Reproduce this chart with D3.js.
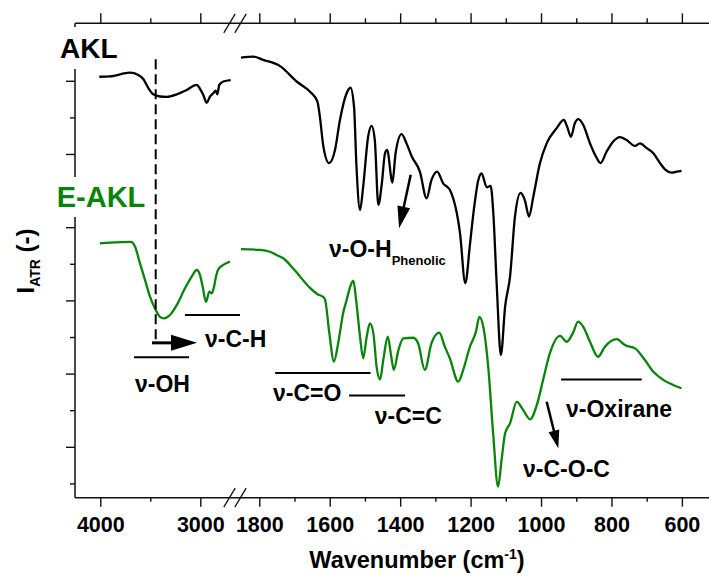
<!DOCTYPE html>
<html><head><meta charset="utf-8">
<script src="https://cdn.jsdelivr.net/npm/d3@7"></script>
<style>
body{margin:0;background:#fff}
svg{display:block;font-family:"Liberation Sans",Arial,sans-serif;font-weight:bold}
</style>
</head><body><svg id="c" width="709" height="577"></svg>
<script>
// ---------------- DATA ----------------
// Wavenumber (cm-1) and ATR intensity (arbitrary units, 1 unit = one y tick)
const aklLeftWn = [4010, 3903, 3703, 3620, 3570, 3520, 3470, 3403, 3336, 3236, 3136, 3036, 3003, 2970, 2936, 2903, 2870, 2846, 2830, 2810, 2770, 2696];
const aklLeftI  = [11.11, 11.12, 11.22, 11.16, 11.05, 10.80, 10.63, 10.57, 10.56, 10.63, 10.75, 10.89, 10.78, 10.61, 10.40, 10.57, 10.66, 10.73, 10.63, 10.89, 10.98, 11.02];

const aklRightWn = [1852, 1817, 1789, 1741, 1694, 1656, 1635, 1628, 1618, 1602, 1585, 1571, 1552, 1541, 1531, 1524, 1514, 1505, 1491, 1481, 1472, 1462, 1452, 1443, 1437, 1422, 1413, 1396, 1382, 1367, 1344, 1325, 1311, 1295, 1278, 1259, 1230, 1215, 1202, 1192, 1178, 1169, 1154, 1143, 1136, 1126, 1114, 1102, 1088, 1074, 1058, 1046, 1034, 1022, 1003, 984, 956, 935, 926, 915, 904, 894, 880, 861, 844, 831, 814, 795, 776, 757, 733, 719, 700, 681, 662, 648, 629, 615, 601];
const aklRightI  = [11.63, 11.66, 11.57, 11.40, 10.98, 10.70, 10.43, 10.02, 9.20, 8.75, 9.11, 9.93, 10.66, 10.81, 10.29, 8.65, 7.47, 8.11, 9.47, 9.77, 9.38, 7.61, 8.20, 9.02, 9.11, 8.22, 9.02, 9.54, 9.29, 8.93, 8.52, 7.79, 8.29, 8.52, 8.20, 8.02, 6.83, 5.47, 6.51, 7.38, 8.29, 8.47, 8.09, 8.13, 7.47, 5.47, 3.51, 4.83, 5.65, 7.29, 7.94, 7.74, 7.29, 7.83, 8.75, 9.29, 9.70, 9.93, 9.75, 9.47, 9.84, 9.95, 9.79, 9.29, 8.93, 8.75, 9.06, 9.34, 9.46, 9.38, 9.22, 9.29, 9.16, 9.02, 8.75, 8.58, 8.49, 8.52, 8.54];

const eaklLeftWn = [4003, 3903, 3693, 3653, 3603, 3553, 3503, 3453, 3403, 3363, 3303, 3236, 3153, 3086, 3036, 3003, 2976, 2943, 2910, 2886, 2863, 2843, 2820, 2770, 2703];
const eaklLeftI  = [6.56, 6.58, 6.60, 6.47, 6.01, 5.56, 5.10, 4.78, 4.55, 4.51, 4.60, 4.87, 5.33, 5.65, 5.83, 5.69, 5.37, 4.96, 5.24, 5.19, 5.37, 5.65, 5.85, 5.97, 6.06];

const eaklRightWn = [1852, 1798, 1770, 1751, 1732, 1700, 1656, 1635, 1618, 1613, 1601, 1588, 1576, 1562, 1552, 1542, 1533, 1525, 1514, 1505, 1495, 1486, 1476, 1467, 1457, 1448, 1435, 1426, 1418, 1405, 1391, 1363, 1349, 1330, 1311, 1289, 1273, 1259, 1235, 1221, 1202, 1185, 1175, 1164, 1150, 1136, 1122, 1112, 1102, 1088, 1069, 1051, 1031, 1012, 994, 975, 946, 927, 908, 895, 880, 861, 838, 819, 785, 762, 733, 705, 681, 653, 625, 601];
const eaklRightI  = [6.40, 6.38, 6.33, 6.24, 6.15, 5.83, 5.34, 5.17, 5.09, 5.01, 4.10, 3.33, 3.83, 4.65, 5.01, 5.37, 5.54, 5.01, 4.01, 3.42, 4.01, 4.37, 4.10, 3.19, 2.84, 3.37, 4.01, 3.51, 3.10, 3.64, 3.96, 3.98, 3.83, 3.10, 3.83, 4.12, 3.73, 3.42, 2.78, 3.10, 3.73, 4.14, 4.55, 4.28, 3.19, 1.37, -0.09, 0.64, 1.37, 1.64, 2.23, 2.01, 1.75, 2.14, 2.83, 3.55, 4.03, 3.87, 4.14, 4.42, 4.28, 3.87, 3.46, 3.73, 3.94, 3.78, 3.69, 3.37, 3.05, 2.83, 2.69, 2.60];

const tickLeftMajor  = [4000, 3000];
const tickLeftMinor  = [3500];
const tickRightMajor = [1800, 1600, 1400, 1200, 1000, 800, 600];
const tickRightMinor = [1700, 1500, 1300, 1100, 900, 700];
const tickYMajor = [1, 3, 5, 7, 9, 11];
const tickYMinor = [0, 2, 4, 6, 8, 10];

// band markers
const bandNames  = ["ν-OH", "ν-C-H", "ν-C=O", "ν-C=C", "ν-Oxirane"];
const bandFrom   = [3663, 3153, 1755, 1545, 943];
const bandTo     = [3113, 2603, 1484, 1386, 714];
const bandLevel  = [3.45, 4.60, 3.02, 2.40, 2.84];
const bandSeg    = ["L", "L", "R", "R", "R"];
const bandLabelWn  = [3653, 2953, 1761, 1472, 929];
const bandLabelLvl = [2.50, 3.73, 2.25, 1.62, 1.81];

// ---------------- LAYOUT ----------------
const plot = {left: 75, right: 709, top: 23.3, bottom: 497.7, brk: 235};
const green = "#088508";
const xL = d3.scaleLinear().domain([4253, 2653]).range([plot.left, plot.brk]);
const xR = d3.scaleLinear().domain([1869, 523]).range([plot.brk, plot.right]);
const y  = d3.scaleLinear().domain([-0.39, 12.57]).range([plot.bottom, plot.top]);
const sx = s => s === "L" ? xL : xR;

const svg = d3.select("#c");

// ---------------- AXES ----------------
function styleAxis(g, fs) {
  g.select(".domain").remove();
  g.selectAll(".tick line").attr("stroke", "#111").attr("stroke-width", 1.4);
  g.selectAll(".tick text").attr("fill", "#000").attr("font-size", fs)
    .attr("font-family", '"Liberation Sans",Arial,sans-serif').attr("font-weight", "bold");
}
const gBottom = svg.append("g").attr("transform", `translate(0,${plot.bottom})`);
[[xL, tickLeftMajor, tickLeftMinor], [xR, tickRightMajor, tickRightMinor]].forEach(([sc, maj, min]) => {
  gBottom.append("g").call(d3.axisBottom(sc).tickValues(maj).tickSize(9).tickPadding(10).tickFormat(d3.format("d"))).call(g => styleAxis(g, 21.5));
  gBottom.append("g").call(d3.axisBottom(sc).tickValues(min).tickSize(4).tickFormat("")).call(g => styleAxis(g, 21.5));
});
const gTop = svg.append("g").attr("transform", `translate(0,${plot.top})`);
[[xL, tickLeftMajor, tickLeftMinor], [xR, tickRightMajor, tickRightMinor]].forEach(([sc, maj, min]) => {
  gTop.append("g").call(d3.axisTop(sc).tickValues(maj).tickSize(10).tickFormat("")).call(g => styleAxis(g, 21));
  gTop.append("g").call(d3.axisTop(sc).tickValues(min).tickSize(5).tickFormat("")).call(g => styleAxis(g, 21));
});
const gLeft = svg.append("g").attr("transform", `translate(${plot.left},0)`);
gLeft.append("g").call(d3.axisLeft(y).tickValues(tickYMajor).tickSize(9).tickFormat("")).call(g => styleAxis(g, 21));
gLeft.append("g").call(d3.axisLeft(y).tickValues(tickYMinor).tickSize(5).tickFormat("")).call(g => styleAxis(g, 21));

// axis lines
const ax = svg.append("g").attr("stroke", "#111").attr("stroke-width", 1.5).attr("fill", "none");
ax.append("line").attr("x1", plot.left).attr("x2", plot.right).attr("y1", plot.bottom).attr("y2", plot.bottom);
ax.append("line").attr("x1", plot.left).attr("x2", plot.right).attr("y1", plot.top).attr("y2", plot.top);
ax.append("line").attr("x1", plot.left).attr("x2", plot.left).attr("y1", plot.top).attr("y2", plot.bottom);
// break marks
[plot.top, plot.bottom].forEach(ay => {
  [-5.5, 5.5].forEach(off => {
    ax.append("line").attr("stroke-width", 1.3)
      .attr("x1", plot.brk + off - 5.7).attr("y1", ay + 9.5)
      .attr("x2", plot.brk + off + 5.7).attr("y2", ay - 9.5);
  });
});

// axis titles
const xt = svg.append("text").attr("x", 417).attr("y", 568).attr("text-anchor", "middle").attr("font-size", 23.5);
xt.append("tspan").text("Wavenumber (cm");
xt.append("tspan").attr("font-size", 14).attr("dy", -9).text("-1");
xt.append("tspan").attr("dy", 9).text(")");
const yt = svg.append("text").attr("transform", "translate(34,261) rotate(-90)").attr("text-anchor", "middle").attr("font-size", 24);
yt.append("tspan").text("I");
yt.append("tspan").attr("font-size", 14).attr("dy", 6).text("ATR");
yt.append("tspan").attr("dy", -6).text(" (-)");

// ---------------- SPECTRA ----------------
const line = sc => d3.line().x(d => sc(d[0])).y(d => y(d[1])).curve(d3.curveMonotoneX);
const zip = (a, b) => a.map((v, i) => [v, b[i]]);
const curves = svg.append("g").attr("fill", "none").attr("stroke-width", 2.3).attr("stroke-linejoin", "round");
curves.append("path").attr("stroke", "#000").attr("d", line(xL)(zip(aklLeftWn, aklLeftI)));
curves.append("path").attr("stroke", "#000").attr("d", line(xR)(zip(aklRightWn, aklRightI)));
curves.append("path").attr("stroke", green).attr("d", line(xL)(zip(eaklLeftWn, eaklLeftI)));
curves.append("path").attr("stroke", green).attr("d", line(xR)(zip(eaklRightWn, eaklRightI)));

// ---------------- ANNOTATIONS ----------------
const ann = svg.append("g");
ann.append("line").attr("x1", xL(3446)).attr("x2", xL(3446)).attr("y1", y(11.59)).attr("y2", y(3.84))
  .attr("stroke", "#000").attr("stroke-width", 2).attr("stroke-dasharray", "10,5");
bandNames.forEach((n, i) => {
  const sc = sx(bandSeg[i]);
  ann.append("line").attr("x1", sc(bandFrom[i])).attr("x2", sc(bandTo[i]))
    .attr("y1", y(bandLevel[i])).attr("y2", y(bandLevel[i])).attr("stroke", "#000").attr("stroke-width", 2);
  ann.append("text").attr("x", sc(bandLabelWn[i])).attr("y", y(bandLabelLvl[i])).attr("font-size", 23).text(n);
});
function arrow(x1, y1, x2, y2, hl, hw, sw) {
  const dx = x2 - x1, dy = y2 - y1, L = Math.hypot(dx, dy), ux = dx / L, uy = dy / L;
  const bx = x2 - ux * hl, by = y2 - uy * hl;
  ann.append("line").attr("x1", x1).attr("y1", y1).attr("x2", bx + ux * 2).attr("y2", by + uy * 2)
    .attr("stroke", "#000").attr("stroke-width", sw);
  ann.append("path").attr("fill", "#000")
    .attr("d", `M${x2},${y2}L${bx - uy * hw},${by + ux * hw}L${bx + uy * hw},${by - ux * hw}Z`);
}
arrow(xL(3483), y(3.84), xL(3033), y(3.84), 26, 8, 3);
arrow(xR(1370), y(8.43), xR(1403), y(6.97), 22, 6.5, 2.5);
arrow(xR(984), y(2.23), xR(951), y(0.96), 18, 5.5, 2.5);
ann.append("text").attr("x", xR(1051)).attr("y", y(0.17)).attr("font-size", 23).text("ν-C-O-C");
const ph = ann.append("text").attr("x", xR(1602)).attr("y", y(6.19)).attr("font-size", 23);
ph.append("tspan").text("ν-O-H");
ph.append("tspan").attr("font-size", 13).attr("dy", 8).text("Phenolic");

// sample labels (white backing hides the axis behind them)
svg.append("rect").attr("x", 55).attr("y", 27).attr("width", 70).attr("height", 42).attr("fill", "#fff");
svg.append("text").attr("x", 60).attr("y", 58).attr("font-size", 28).attr("fill", "#000").text("AKL");
svg.append("rect").attr("x", 50).attr("y", 177).attr("width", 100).attr("height", 40).attr("fill", "#fff");
svg.append("text").attr("x", 56.7).attr("y", 206.5).attr("font-size", 29).attr("fill", green).text("E-AKL");
</script>
</body></html>
